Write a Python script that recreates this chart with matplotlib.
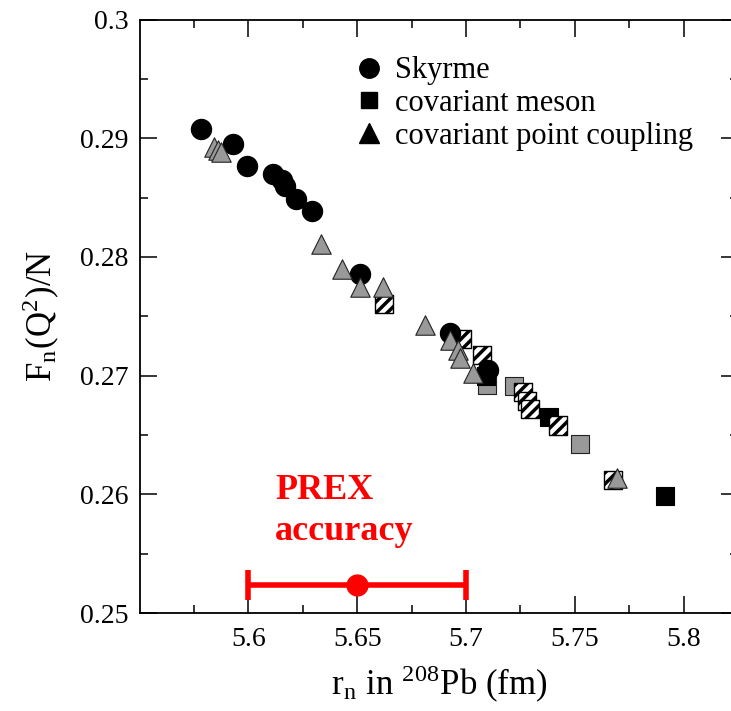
#!/usr/bin/env python3
import numpy as np
import matplotlib
matplotlib.use('Agg')
import matplotlib.pyplot as plt
from matplotlib.lines import Line2D

# Skyrme (black circles)
skyrme_r = [5.5781, 5.5931, 5.5992, 5.6112, 5.6153, 5.6168, 5.6219, 5.6291,
            5.6513, 5.6926, 5.7103]
skyrme_f = [0.2908, 0.2895, 0.2877, 0.2870, 0.2865, 0.2860, 0.2849, 0.2839,
            0.2786, 0.2736, 0.2705]

# covariant meson (squares), three fill styles
meson_black_r = [5.7091, 5.7381, 5.7914]
meson_black_f = [0.2700, 0.2665, 0.2599]
meson_hatch_r = [5.6625, 5.6980, 5.7072, 5.7262, 5.7280, 5.7294, 5.7421, 5.7677]
meson_hatch_f = [0.2760, 0.2731, 0.2717, 0.2686, 0.2679, 0.2672, 0.2658, 0.2612]
meson_gray_r = [5.7098, 5.7221, 5.7524]
meson_gray_f = [0.2692, 0.2691, 0.2642]

# covariant point coupling (gray triangles)
pc_r = [5.5842, 5.5860, 5.5874, 5.6334, 5.6429, 5.6513, 5.6620, 5.6812,
        5.6926, 5.6963, 5.6972, 5.7034, 5.7693]
pc_f = [0.2893, 0.2890, 0.2888, 0.2811, 0.2790, 0.2775, 0.2775, 0.2743,
        0.2730, 0.2722, 0.2715, 0.2702, 0.2614]

# PREX accuracy
prex_r = 5.65
prex_f = 0.2524
prex_err = 0.05

plt.rcParams['font.family'] = ['Liberation Serif', 'DejaVu Serif']
plt.rcParams['mathtext.fontset'] = 'stix'
plt.rcParams['hatch.linewidth'] = 2.5

fig = plt.figure(figsize=(7.31, 7.11), dpi=100)
ax = fig.add_axes([0.191, 0.1378, 0.8186, 0.8347])

gray = '#999999'
ax.scatter(meson_gray_r, meson_gray_f, marker='s', s=13**2, facecolor=gray,
           edgecolor='#222222', linewidths=0.8, zorder=3)
ax.scatter(meson_black_r, meson_black_f, marker='s', s=13**2, facecolor='black',
           edgecolor='black', linewidths=0.8, zorder=3)
ax.scatter(meson_hatch_r, meson_hatch_f, marker='s', s=13**2, facecolor='white',
           edgecolor='black', linewidths=1.0, hatch='///', zorder=3)
ax.scatter(skyrme_r, skyrme_f, marker='o', s=14.4**2, facecolor='black',
           edgecolor='black', zorder=4)
ax.scatter(pc_r, pc_f, marker='^', s=14**2, facecolor=gray,
           edgecolor='#222222', linewidths=0.8, zorder=5)

ax.errorbar(prex_r, prex_f, xerr=prex_err, fmt='o', color='red', ms=15,
            elinewidth=4, capsize=11, capthick=4, zorder=6, clip_on=False)
ax.text(5.6122, 0.2586, 'PREX\naccuracy', color='red', fontsize=26,
        fontweight='bold', ha='left', va='center', linespacing=1.32)

handles = [
    Line2D([], [], ls='none', marker='o', ms=14, color='black', label='Skyrme'),
    Line2D([], [], ls='none', marker='s', ms=12, color='black', label='covariant meson'),
    Line2D([], [], ls='none', marker='^', ms=14, color='black',
           label='covariant point coupling'),
]
ax.legend(handles=handles, loc='upper left', bbox_to_anchor=(0.363, 0.938),
          frameon=False, fontsize=22, handlelength=0.8, handletextpad=0.45,
          labelspacing=0.12, borderaxespad=0, borderpad=0)

ax.set_xlim(5.55, 5.825)
ax.set_ylim(0.25, 0.30)
ax.set_xticks([5.6, 5.65, 5.7, 5.75, 5.8])
ax.set_xticklabels(['5.6', '5.65', '5.7', '5.75', '5.8'])
ax.set_xticks(np.arange(5.575, 5.83, 0.05), minor=True)
ax.set_yticks([0.25, 0.26, 0.27, 0.28, 0.29, 0.3])
ax.set_yticklabels(['0.25', '0.26', '0.27', '0.28', '0.29', '0.3'])
ax.set_yticks(np.arange(0.255, 0.30, 0.01), minor=True)
ax.tick_params(which='both', direction='in', top=True, right=True, width=1.1,
               labelsize=20)
ax.tick_params(which='major', length=12, pad=10)
ax.tick_params(which='minor', length=6)
ax.tick_params(axis='y', which='major', pad=8)
for sp in ax.spines.values():
    sp.set_linewidth(1.3)

ax.set_xlabel(r'r$_\mathregular{n}$ in $^\mathregular{208}$Pb (fm)', fontsize=25,
              labelpad=8)
ax.set_ylabel(r'F$_\mathregular{n}$(Q$^\mathregular{2}$)/N', fontsize=25,
              labelpad=14)

fig.savefig('out.png', dpi=100)
